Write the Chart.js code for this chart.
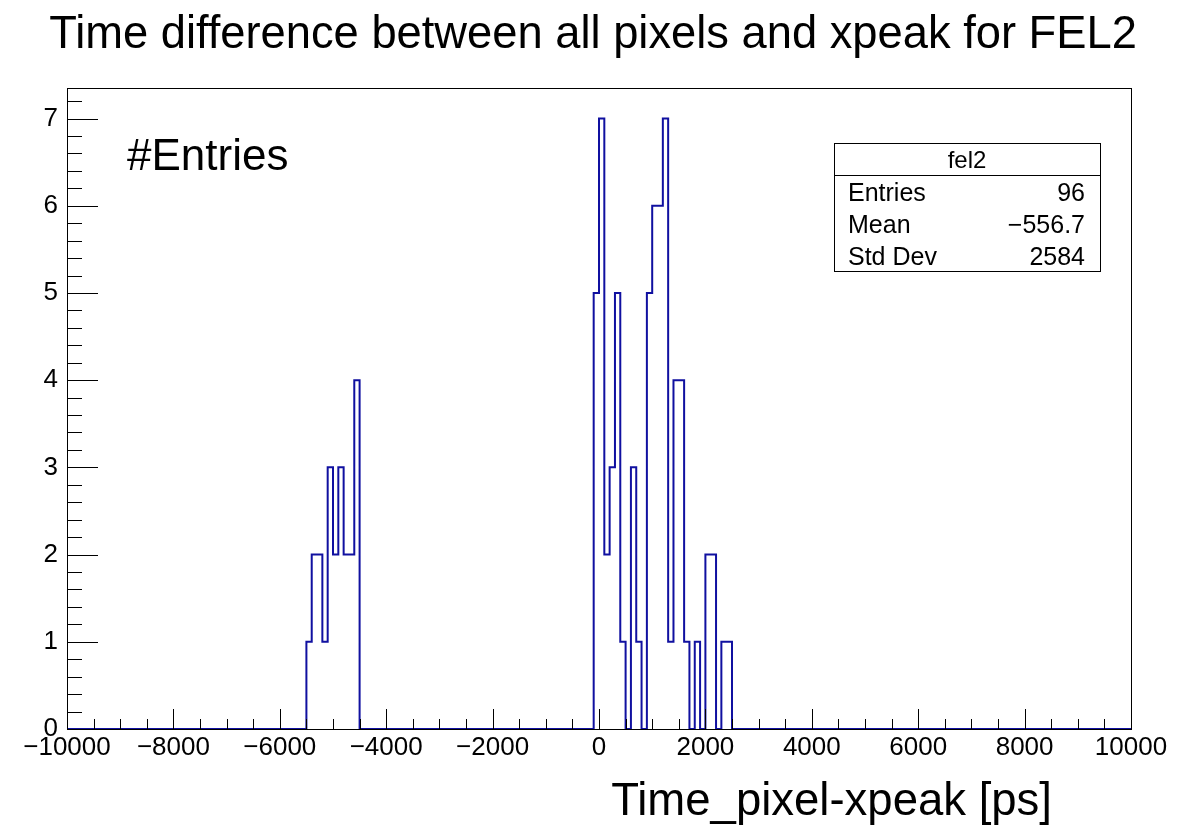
<!DOCTYPE html>
<html lang="en">
<head>
    <meta charset="UTF-8">
    <title>fel2</title>
    <style>
        body {
            margin: 0;
            background-color: #ffffff;
        }
        #histo {
            display: block;
        }
    </style>
    <script src="https://cdn.jsdelivr.net/npm/chart.js"></script>
</head>
<body>
    <canvas id="histo" width="1187" height="829"></canvas>
    <script>
        // histogram binning
        const binWidth = 100;
        const xMin = -10000;
        const xMax = 10000;
        const yMax = 7.35;

        // filled bins, counted from the low edge of each group
        const earlyStart = -5500;
        const earlyCounts = [1, 2, 2, 1, 3, 2, 3, 2, 2, 4];
        const peakStart = -100;
        const peakCounts = [5, 7, 2, 3, 5, 1, 0, 3, 1, 0, 5, 6, 6, 7, 1, 4, 4, 1, 0, 1, 0, 2, 2, 0, 1, 1];

        const titleText = 'Time difference between all pixels and xpeak for FEL2';
        const xTitle = 'Time_pixel-xpeak [ps]';
        const yTitle = '#Entries';
        const statsName = 'fel2';
        const statsLabels = ['Entries', 'Mean', 'Std Dev'];
        const statsValues = ['96', '\u2212556.7', '2584'];

        const FONT = '"Liberation Sans", Arial, Helvetica, sans-serif';
        const LINE_COLOR = '#1010a0';

        // step outline: one point per bin low edge, back to zero after each group
        const points = [{ x: xMin, y: 0 }];
        [[earlyStart, earlyCounts], [peakStart, peakCounts]].forEach(([start, counts]) => {
            counts.forEach((c, i) => points.push({ x: start + i * binWidth, y: c }));
            points.push({ x: start + counts.length * binWidth, y: 0 });
        });
        points.push({ x: xMax, y: 0 });

        function minus(v) {
            return v < 0 ? '\u2212' + Math.abs(v) : String(v);
        }

        // frame, tick marks, titles and the stats box, ROOT style
        const rootFrame = {
            id: 'rootFrame',
            afterDatasetsDraw(chart) {
                const ctx = chart.ctx;
                const area = chart.chartArea;
                const xs = chart.scales.x;
                const ys = chart.scales.y;

                ctx.save();
                ctx.strokeStyle = '#000';
                ctx.lineWidth = 1;
                ctx.strokeRect(area.left + 0.5, area.top + 0.5, area.right - area.left, area.bottom - area.top);

                ctx.beginPath();
                for (let v = xMin; v <= xMax; v += 500) {
                    const px = Math.round(xs.getPixelForValue(v)) + 0.5;
                    const len = v % 2000 === 0 ? 20 : 10;
                    ctx.moveTo(px, area.bottom);
                    ctx.lineTo(px, area.bottom - len);
                }
                for (let k = 0; k <= 36; k++) {
                    const v = k * 0.2;
                    const py = Math.round(ys.getPixelForValue(v)) + 0.5;
                    const len = k % 5 === 0 ? 31 : 15;
                    ctx.moveTo(area.left, py);
                    ctx.lineTo(area.left + len, py);
                }
                ctx.stroke();

                ctx.fillStyle = '#000';
                ctx.textBaseline = 'alphabetic';

                ctx.font = '45.3px ' + FONT;
                ctx.textAlign = 'center';
                ctx.fillText(titleText, 593, 48);

                ctx.font = '44px ' + FONT;
                ctx.textAlign = 'left';
                ctx.fillText(yTitle, 127, 170);

                ctx.font = '45.5px ' + FONT;
                ctx.textAlign = 'right';
                ctx.fillText(xTitle, 1052, 815);

                // stats box
                const bx = 834, by = 143, bw = 266, rowH = 32;
                ctx.fillStyle = '#fff';
                ctx.fillRect(bx, by, bw, rowH * 4);
                ctx.strokeRect(bx + 0.5, by + 0.5, bw, rowH * 4);
                ctx.beginPath();
                ctx.moveTo(bx, by + rowH + 0.5);
                ctx.lineTo(bx + bw, by + rowH + 0.5);
                ctx.stroke();

                ctx.fillStyle = '#000';
                ctx.font = '24px ' + FONT;
                ctx.textAlign = 'center';
                ctx.fillText(statsName, bx + bw / 2, by + 25);
                ctx.font = '25px ' + FONT;
                statsLabels.forEach((label, i) => {
                    const base = by + rowH * (i + 1) + 26;
                    ctx.textAlign = 'left';
                    ctx.fillText(label, bx + 14, base);
                    ctx.textAlign = 'right';
                    ctx.fillText(statsValues[i], bx + bw - 15, base);
                });
                ctx.restore();
            }
        };

        new Chart(document.getElementById('histo'), {
            type: 'line',
            data: {
                datasets: [{
                    label: statsName,
                    data: points,
                    stepped: 'before',
                    borderColor: LINE_COLOR,
                    borderWidth: 2,
                    pointRadius: 0,
                    fill: false
                }]
            },
            options: {
                responsive: false,
                animation: false,
                devicePixelRatio: 1,
                layout: {
                    padding: { left: 0, top: 88, right: 56, bottom: 0 }
                },
                plugins: {
                    legend: { display: false },
                    tooltip: { enabled: false }
                },
                scales: {
                    x: {
                        type: 'linear',
                        min: xMin,
                        max: xMax,
                        grid: { display: false },
                        border: { display: false },
                        ticks: {
                            stepSize: 2000,
                            maxRotation: 0,
                            autoSkip: false,
                            padding: -5,
                            color: '#000',
                            font: { family: FONT, size: 26 },
                            callback: (v) => minus(v)
                        },
                        afterFit(scale) { scale.height = 100; }
                    },
                    y: {
                        min: 0,
                        max: yMax,
                        grid: { display: false },
                        border: { display: false },
                        ticks: {
                            stepSize: 1,
                            includeBounds: false,
                            padding: 1,
                            color: '#000',
                            font: { family: FONT, size: 26 }
                        },
                        afterFit(scale) { scale.width = 67; }
                    }
                }
            },
            plugins: [rootFrame]
        });
    </script>
</body>
</html>
